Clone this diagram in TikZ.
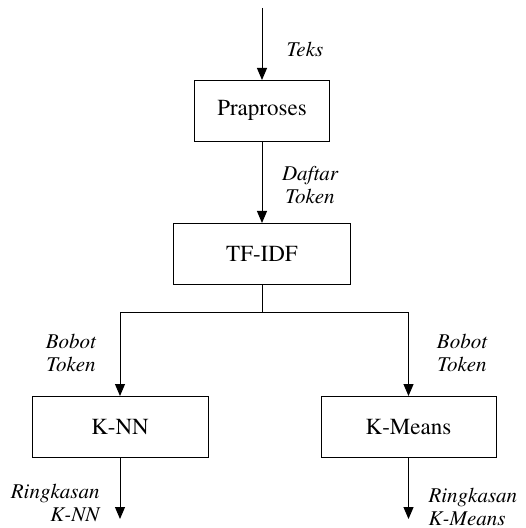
\documentclass[tikz,border=0pt]{standalone}
\usepackage[T1]{fontenc}
\usepackage{times}
\usetikzlibrary{arrows.meta}
\begin{document}
\begin{tikzpicture}[x=0.5pt,y=-0.5pt,line width=0.5pt,
  proc/.style={draw,minimum height=30.5pt,font=\fontsize{11.5}{13}\selectfont},
  lbl/.style={font=\fontsize{10.5}{11.5}\selectfont\itshape,inner sep=0pt,align=center},
  flow/.style={-{Triangle[width=5pt,length=6pt]}}]
  \useasboundingbox (0,0) rectangle (525,528);
  % boxes
  \node[proc,minimum width=67.5pt] (pra) at (262,111) {Praproses};
  \node[proc,minimum width=88.5pt] (tfidf) at (262,254) {TF-IDF};
  \node[proc,minimum width=88pt] (knn) at (120,427) {K-NN};
  \node[proc,minimum width=87.5pt] (kmeans) at (408.5,427) {K-Means};
  % free ends
  \coordinate (in) at (262,8);
  \coordinate (split) at (262,312);
  \coordinate (knnout) at (120,519);
  \coordinate (kmeansout) at (408.5,519);
  % connectors
  \draw[flow] (in) -- (pra.north);
  \draw[flow] (pra.south) -- (tfidf.north);
  \draw (tfidf.south) -- (split);
  \draw[flow] (split) -| (knn.north);
  \draw[flow] (split) -| (kmeans.north);
  \draw[flow] (knn.south) -- (knnout);
  \draw[flow] (kmeans.south) -- (kmeansout);
  % labels
  \node[lbl] (teks) at (305,50) {Teks};
  \node[lbl] (daftar) at (310,185) {Daftar\\Token};
  \node[lbl] (bobotl) at (71,353) {Bobot\\Token};
  \node[lbl] (bobotr) at (462,353) {Bobot\\Token};
  \node[lbl,align=right,anchor=east] (ringl) at (100,503) {Ringkasan\\K-NN};
  \node[lbl,align=left,anchor=west] (ringr) at (428,507) {Ringkasan\\K-Means};
\end{tikzpicture}
\end{document}
